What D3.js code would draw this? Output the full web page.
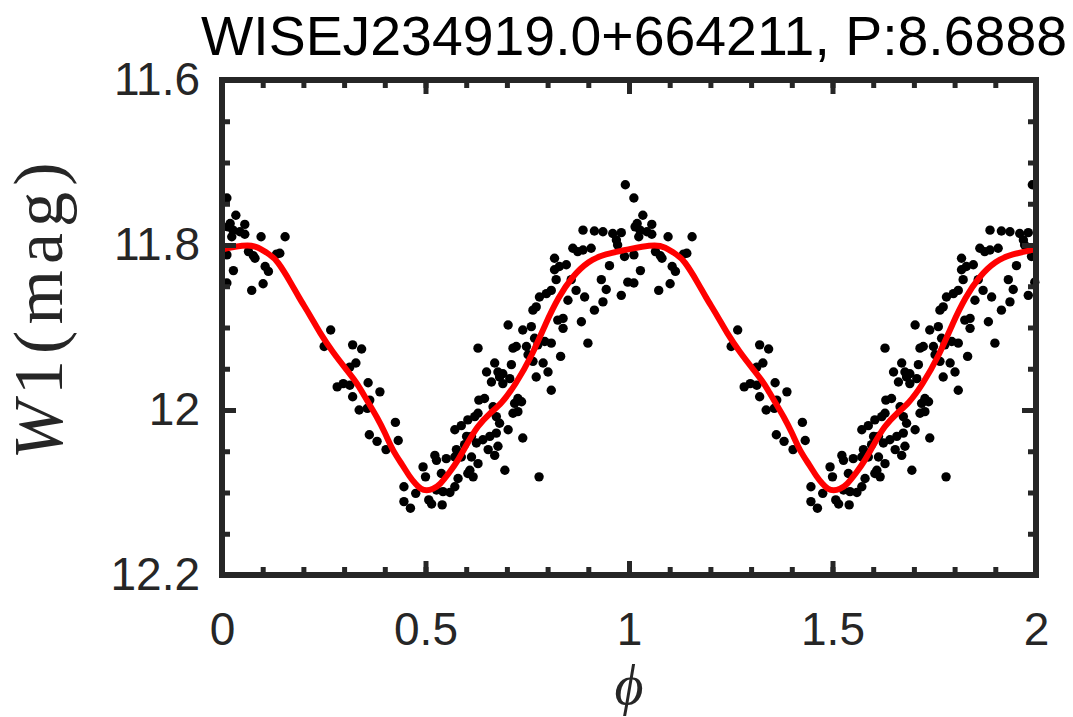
<!DOCTYPE html>
<html><head><meta charset="utf-8">
<script src="https://cdn.jsdelivr.net/npm/d3@7"></script>
<style>body{margin:0;background:#fff;} svg{display:block}</style>
</head><body>
<svg id="c" width="1073" height="717"></svg>
<script>
const titleText = "WISEJ234919.0+664211, P:8.6888";
const xTicks = [0, 0.5, 1, 1.5, 2];
const xTickLabels = ["0", "0.5", "1", "1.5", "2"];
const yTicks = [11.6, 11.8, 12, 12.2];
const yTickLabels = ["11.6", "11.8", "12", "12.2"];

// observed points, one cycle (phase in [0,1)); plotted at phase and phase+1
const obsPhase = [0.012,0.034,0.020,0.056,0.027,0.044,0.056,0.096,0.155,0.024,0.012,0.065,0.077,0.081,0.134,0.142,0.106,0.114,0.028,0.012,0.101,0.073,0.015,
0.267,0.251,0.321,0.343,0.329,0.314,0.283,0.298,0.314,0.359,0.388,0.321,0.363,0.337,0.357,0.426,0.362,0.381,0.403,0.433,
0.494,0.500,0.447,0.476,0.447,0.463,0.508,0.515,0.541,0.523,0.527,0.551,0.572,0.539,0.527,0.543,0.560,
0.572,0.588,0.604,0.621,0.601,0.596,0.576,0.588,0.613,0.580,0.604,0.617,0.572,0.629,0.631,0.629,0.613,0.625,0.641,0.658,0.674,
0.629,0.609,0.654,0.670,0.678,0.645,0.666,0.674,0.682,0.703,0.695,0.739,0.779,
0.650,0.670,0.662,0.682,0.690,0.707,0.678,0.690,0.711,0.723,0.715,0.703,0.727,0.736,0.719,0.727,0.715,
0.748,0.739,0.760,0.768,0.776,0.793,0.809,0.752,0.764,0.772,0.789,0.801,0.809,0.832,
0.764,0.772,0.780,0.797,0.809,0.821,0.817,0.829,0.817,0.838,0.825,0.838,0.846,0.858,0.850,0.870,0.862,0.874,
0.887,0.915,0.936,0.960,0.981,0.969,0.887,0.907,0.989,0.952,0.932,0.944,0.981,0.891,0.936,0.915,0.991,0.883,0.899,0.972,0.997];
const obsMag = [11.743,11.764,11.774,11.775,11.782,11.784,11.787,11.790,11.790,11.790,11.812,11.808,11.813,11.816,11.811,11.810,11.826,11.832,11.831,11.846,11.847,11.855,11.778,
11.903,11.923,11.921,11.926,11.943,11.948,11.972,11.968,11.970,11.967,11.978,11.984,11.988,12.000,11.998,12.015,12.030,12.038,12.048,12.037,
12.069,12.081,12.093,12.101,12.111,12.119,12.109,12.114,12.115,12.055,12.061,12.059,12.057,12.077,12.097,12.099,12.100,
12.024,12.019,12.012,12.008,12.032,12.042,12.048,12.057,12.057,12.083,12.077,12.081,12.093,11.925,11.988,12.004,12.032,12.040,12.036,12.032,12.028,
12.065,12.073,12.048,12.055,12.044,11.986,11.996,12.008,12.016,12.024,12.073,12.034,12.081,
11.954,11.943,11.966,11.960,11.968,11.962,11.954,11.956,11.945,11.923,11.925,11.897,11.986,11.990,11.992,12.002,12.004,
11.923,11.903,11.899,11.913,11.921,11.917,11.919,11.933,11.941,11.960,11.943,11.954,11.976,11.935,
11.879,11.875,11.863,11.859,11.855,11.842,11.830,11.826,11.816,11.889,11.891,11.901,11.824,11.842,11.867,11.855,11.804,11.808,
11.782,11.783,11.784,11.786,11.785,11.794,11.806,11.804,11.814,11.825,11.842,11.854,11.861,11.863,11.869,11.879,11.727,11.893,11.919,11.800,11.845];

// fitted model, one cycle
const fitPhase = [0.000,0.032,0.064,0.088,0.118,0.135,0.172,0.187,0.216,0.241,0.272,0.307,0.331,0.344,0.363,0.380,0.400,0.420,0.444,0.461,0.476,0.488,0.503,0.518,0.535,0.560,0.579,0.601,0.628,0.658,0.687,0.719,0.763,0.795,0.827,0.859,0.901,0.942,0.991];
const fitMag = [11.805,11.802,11.800,11.802,11.812,11.818,11.848,11.862,11.885,11.907,11.930,11.952,11.967,11.978,11.994,12.008,12.027,12.050,12.067,12.081,12.090,12.096,12.098,12.096,12.091,12.075,12.062,12.042,12.019,12.004,11.992,11.971,11.933,11.895,11.863,11.839,11.819,11.811,11.806];

const svg = d3.select("#c");
const L = 222, R = 1036, T = 80, B = 575;
const x = d3.scaleLinear().domain([0, 2]).range([L, R]);
const y = d3.scaleLinear().domain([11.6, 12.2]).range([T, B]);
const axisColor = "#262626";

// points
const pts = [];
for (let k = 0; k < 2; k++) obsPhase.forEach((p, i) => pts.push([p + k, obsMag[i]]));
svg.append("g").selectAll("circle").data(pts).join("circle")
  .attr("cx", d => x(d[0])).attr("cy", d => y(d[1])).attr("r", 4.7).attr("fill", "#000");

// fitted curve
const fit = [[-0.032, fitMag[fitMag.length - 2]]];
for (let k = 0; k < 2; k++) fitPhase.forEach((p, i) => fit.push([p + k, fitMag[i]]));
fit.push([2, fitMag[0]]);
fit.push([2.032, fitMag[1]]);
svg.append("defs").append("clipPath").attr("id", "clip").append("rect")
  .attr("x", L).attr("y", T).attr("width", R - L).attr("height", B - T);
svg.append("path").datum(fit).attr("clip-path", "url(#clip)")
  .attr("d", d3.line().x(d => x(d[0])).y(d => y(d[1])).curve(d3.curveBasis))
  .attr("fill", "none").attr("stroke", "#ff0000").attr("stroke-width", 6)
  .attr("stroke-linejoin", "round").attr("stroke-linecap", "round");

// axes
const fmtX = d => xTickLabels[xTicks.indexOf(d)];
const fmtY = d => yTickLabels[yTicks.indexOf(d)];
const xMinor = d3.range(0, 21).map(i => i / 10);
const yMinor = d3.range(0, 13).map(i => 11.6 + i * 0.05);

function style(g) {
  g.select(".domain").remove();
  g.selectAll(".tick line").attr("stroke", axisColor).attr("stroke-width", 5);
  g.selectAll("text").attr("fill", axisColor).attr("font-family", "Liberation Sans, Arial, sans-serif").attr("font-size", 46);
}
// minor ticks
svg.append("g").attr("transform", `translate(0,${B})`).call(d3.axisBottom(x).tickValues(xMinor).tickSize(-8).tickFormat("")).call(style);
svg.append("g").attr("transform", `translate(0,${T})`).call(d3.axisTop(x).tickValues(xMinor).tickSize(-8).tickFormat("")).call(style);
svg.append("g").attr("transform", `translate(${L},0)`).call(d3.axisLeft(y).tickValues(yMinor).tickSize(-8).tickFormat("")).call(style);
svg.append("g").attr("transform", `translate(${R},0)`).call(d3.axisRight(y).tickValues(yMinor).tickSize(-8).tickFormat("")).call(style);
// major ticks + labels
svg.append("g").attr("transform", `translate(0,${B})`).call(d3.axisBottom(x).tickValues(xTicks).tickSize(-14).tickPadding(37).tickFormat(fmtX)).call(style);
svg.append("g").attr("transform", `translate(0,${T})`).call(d3.axisTop(x).tickValues(xTicks).tickSize(-14).tickFormat("")).call(style);
svg.append("g").attr("transform", `translate(${L},0)`).call(d3.axisLeft(y).tickValues(yTicks).tickSize(-14).tickPadding(22).tickFormat(fmtY)).call(style);
svg.append("g").attr("transform", `translate(${R},0)`).call(d3.axisRight(y).tickValues(yTicks).tickSize(-14).tickFormat("")).call(style);

// box
svg.append("rect").attr("x", L).attr("y", T).attr("width", R - L).attr("height", B - T)
  .attr("fill", "none").attr("stroke", axisColor).attr("stroke-width", 6);

// title
svg.append("text").attr("x", 634).attr("y", 55).attr("text-anchor", "middle")
  .attr("font-family", "Liberation Sans, Arial, sans-serif").attr("font-size", 55).attr("fill", "#000")
  .attr("textLength", 866).attr("lengthAdjust", "spacingAndGlyphs")
  .text(titleText);

// y label
const yl = svg.append("text").attr("transform", "translate(62,311) rotate(-90)").attr("text-anchor", "middle")
  .attr("font-family", "Liberation Serif, DejaVu Serif, serif").attr("font-size", 70).attr("fill", axisColor)
  .attr("textLength", 297).attr("lengthAdjust", "spacing");
yl.append("tspan").attr("font-style", "italic").text("W");
yl.append("tspan").text("1(mag)");

// x label
svg.append("text").attr("x", 629).attr("y", 704).attr("text-anchor", "middle")
  .attr("font-family", "Liberation Serif, DejaVu Serif, serif").attr("font-style", "italic")
  .attr("font-size", 56).attr("fill", axisColor).text("ϕ");
</script>
</body></html>
